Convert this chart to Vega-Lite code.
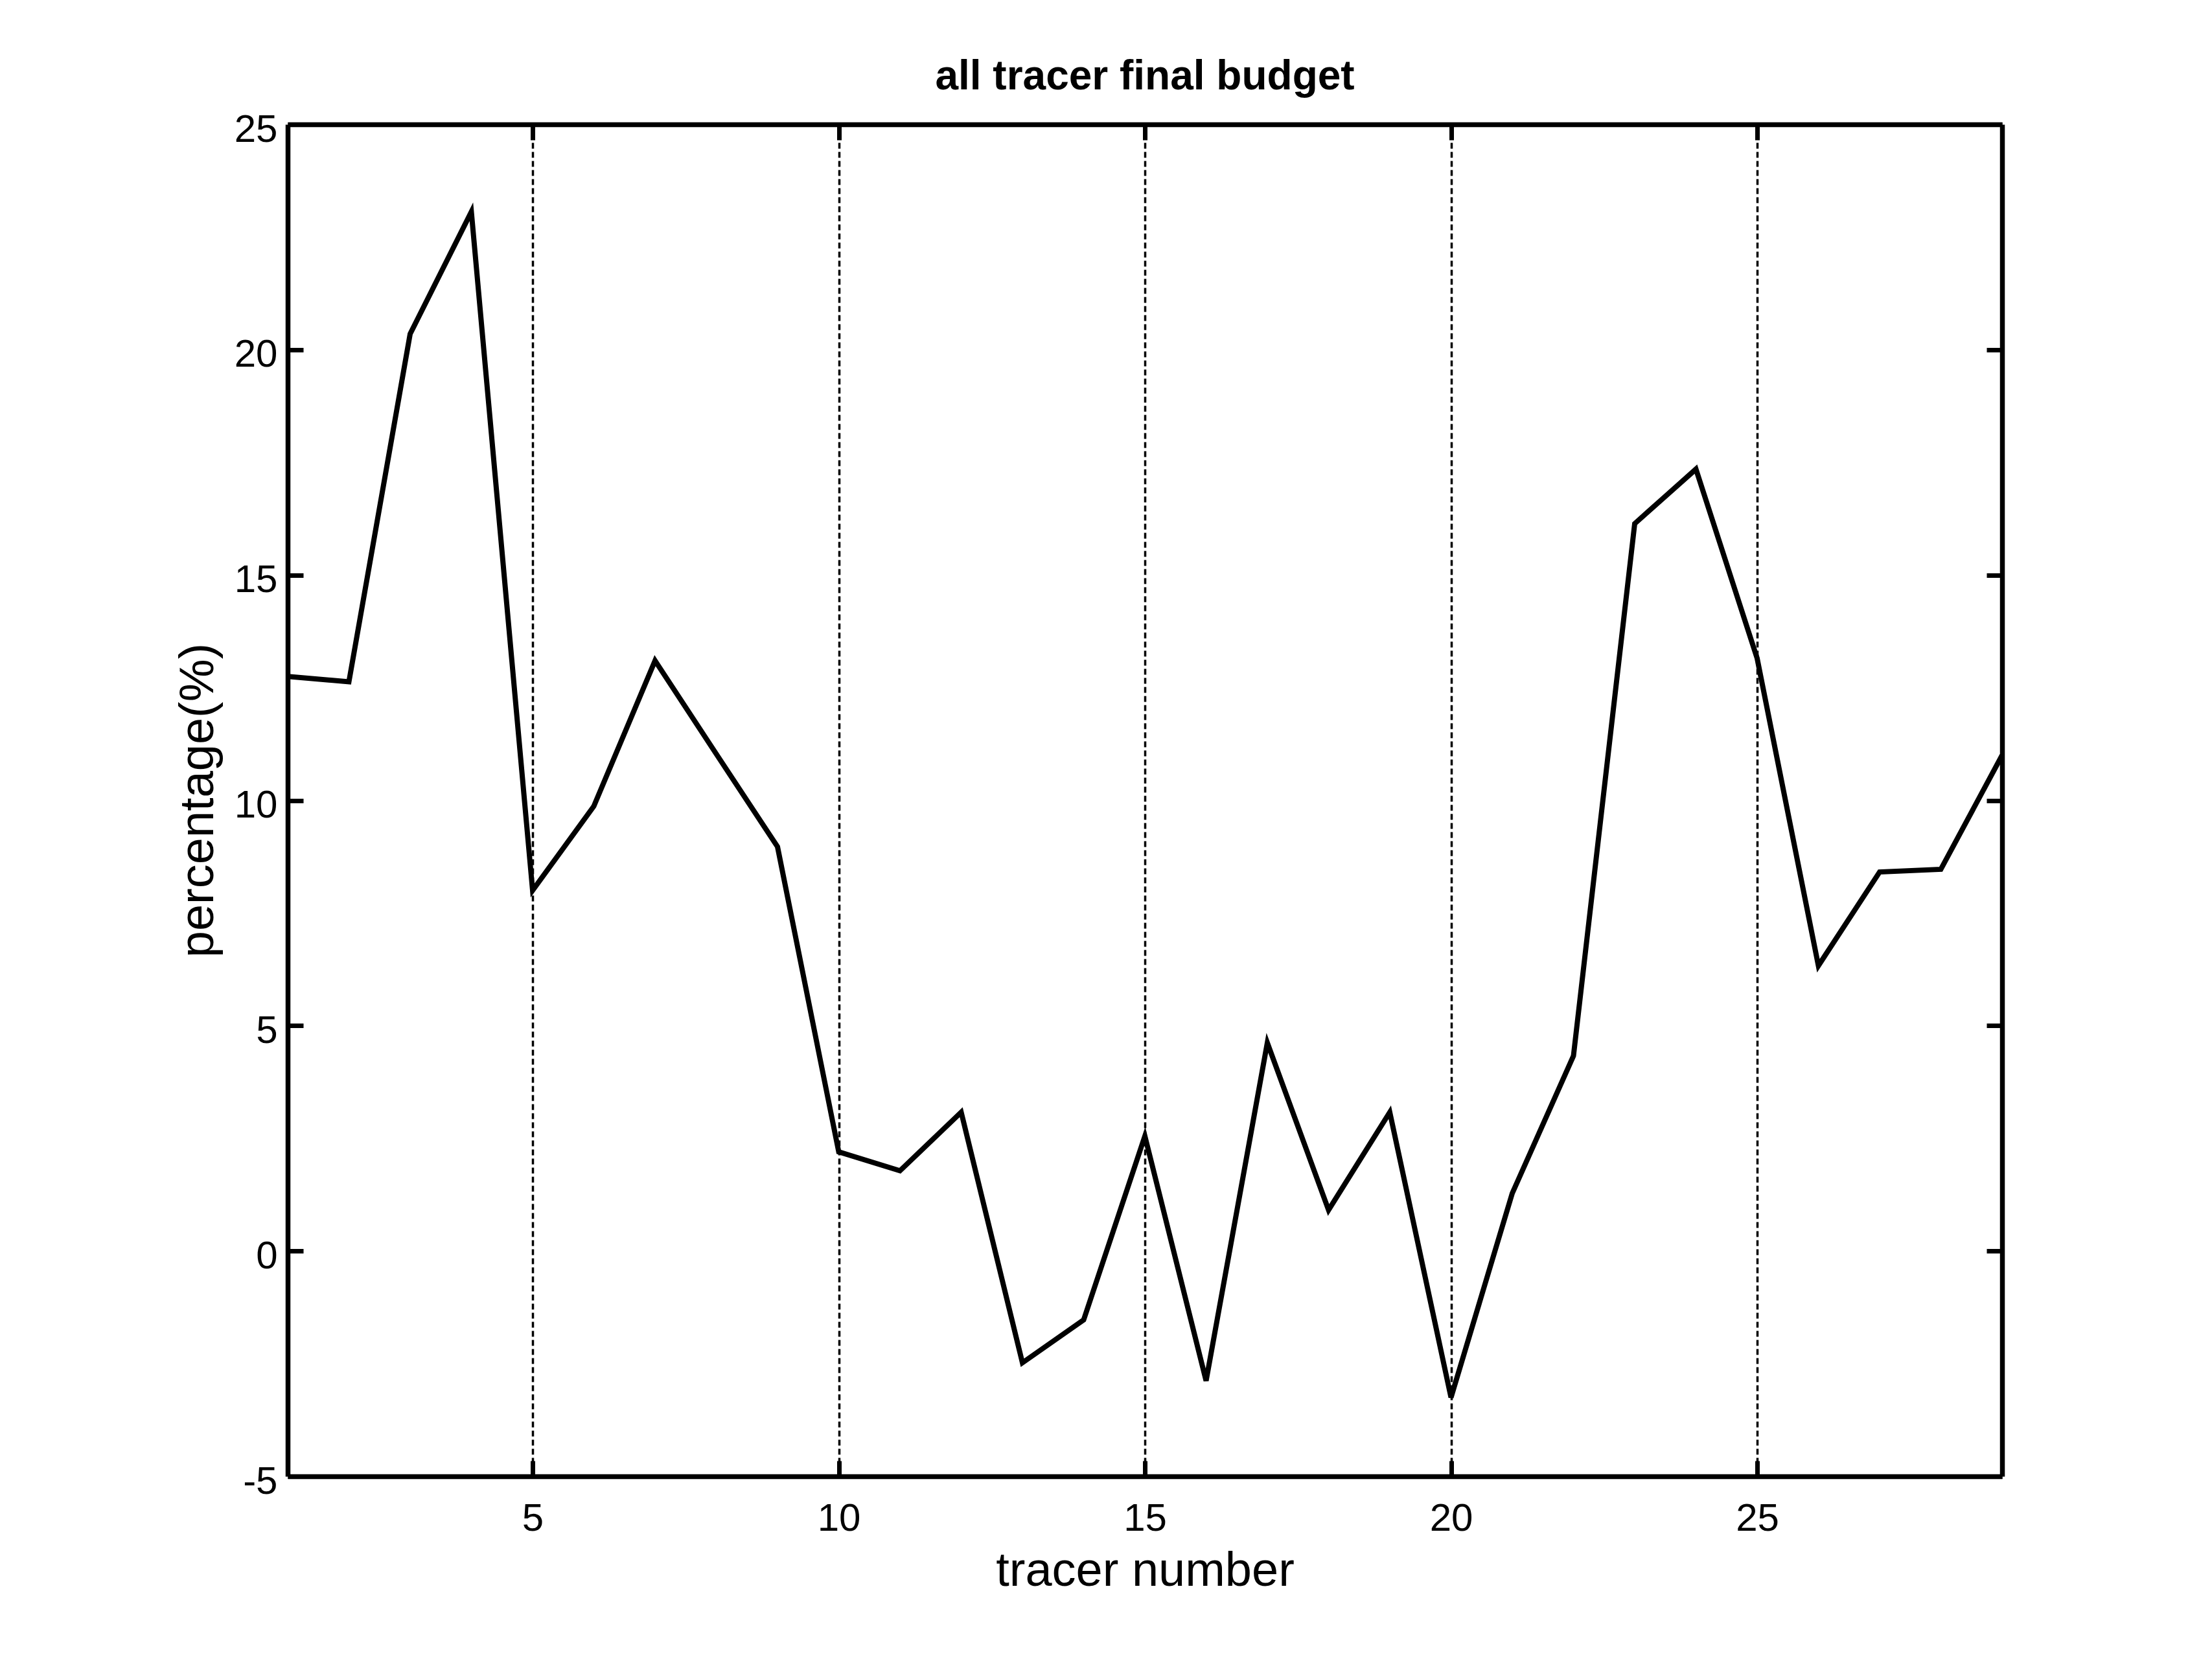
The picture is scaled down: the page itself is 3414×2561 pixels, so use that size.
{
  "$schema": "https://vega.github.io/schema/vega-lite/v6.json",
  "width": 2646,
  "height": 2087,
  "autosize": {"type": "none"},
  "padding": {"left": 444, "top": 192, "right": 324, "bottom": 282},
  "background": "white",
  "title": {
    "text": "all tracer final budget",
    "font": "Liberation Sans",
    "fontSize": 64,
    "fontWeight": "bold",
    "color": "black",
    "anchor": "middle",
    "baseline": "alphabetic",
    "offset": 38,
    "dy": 70
  },
  "config": {
    "view": {"stroke": null},
    "axis": {
      "domainColor": "black",
      "domainWidth": 7.5,
      "tickColor": "black",
      "tickWidth": 7,
      "tickSize": -24,
      "labelFont": "Liberation Sans",
      "labelFontSize": 60,
      "labelColor": "black",
      "labelFlush": false,
      "labelOverlap": false,
      "labelBound": false,
      "labelExpr": "'' + datum.value",
      "titleFont": "Liberation Sans",
      "titleFontSize": 74,
      "titleFontWeight": "normal",
      "titleColor": "black"
    }
  },
  "data": {
    "values": [
      {"tracer": 1, "pct": 12.75},
      {"tracer": 2, "pct": 12.63},
      {"tracer": 3, "pct": 20.35},
      {"tracer": 4, "pct": 23.06},
      {"tracer": 5, "pct": 8.0},
      {"tracer": 6, "pct": 9.87},
      {"tracer": 7, "pct": 13.1},
      {"tracer": 8, "pct": 11.03},
      {"tracer": 9, "pct": 8.97},
      {"tracer": 10, "pct": 2.2},
      {"tracer": 11, "pct": 1.78},
      {"tracer": 12, "pct": 3.08},
      {"tracer": 13, "pct": -2.48},
      {"tracer": 14, "pct": -1.53},
      {"tracer": 15, "pct": 2.55},
      {"tracer": 16, "pct": -2.88},
      {"tracer": 17, "pct": 4.62},
      {"tracer": 18, "pct": 0.91},
      {"tracer": 19, "pct": 3.08},
      {"tracer": 20, "pct": -3.25},
      {"tracer": 21, "pct": 1.28},
      {"tracer": 22, "pct": 4.33},
      {"tracer": 23, "pct": 16.14},
      {"tracer": 24, "pct": 17.35},
      {"tracer": 25, "pct": 13.15},
      {"tracer": 26, "pct": 6.33},
      {"tracer": 27, "pct": 8.41},
      {"tracer": 28, "pct": 8.47},
      {"tracer": 29, "pct": 11.0}
    ]
  },
  "layer": [
    {
      "mark": {"type": "line", "color": "black", "strokeWidth": 8, "strokeJoin": "miter", "clip": true},
      "encoding": {
        "x": {
          "field": "tracer",
          "type": "quantitative",
          "scale": {"domain": [1, 29], "nice": false, "zero": false},
          "axis": {
            "orient": "bottom",
            "values": [5, 10, 15, 20, 25],
            "title": "tracer number",
            "labelPadding": 60,
            "grid": true,
            "gridColor": "black",
            "gridWidth": 3.5,
            "gridDash": [9, 5],
            "gridOpacity": 1,
            "titleBaseline": "alphabetic",
            "titleX": 1323,
            "titleY": 168,
            "titleAnchor": "middle",
            "titleAlign": "center"
          }
        },
        "y": {
          "field": "pct",
          "type": "quantitative",
          "scale": {"domain": [-5, 25], "nice": false, "zero": false},
          "axis": {
            "orient": "left",
            "values": [-5, 0, 5, 10, 15, 20, 25],
            "title": "percentage(%)",
            "labelPadding": 40,
            "labelBaseline": "middle",
            "labelOffset": 8,
            "grid": false,
            "titleBaseline": "alphabetic",
            "titleAngle": -90,
            "titleX": -116,
            "titleY": 1043,
            "titleAlign": "center"
          }
        }
      }
    },
    {
      "mark": {"type": "line", "opacity": 0},
      "encoding": {
        "x": {
          "field": "tracer",
          "type": "quantitative",
          "axis": {
            "orient": "top",
            "values": [5, 10, 15, 20, 25],
            "labels": false,
            "title": null,
            "grid": false
          }
        },
        "y": {
          "field": "pct",
          "type": "quantitative",
          "axis": {
            "orient": "right",
            "values": [-5, 0, 5, 10, 15, 20, 25],
            "labels": false,
            "title": null,
            "grid": false
          }
        }
      }
    }
  ],
  "resolve": {"axis": {"x": "independent", "y": "independent"}}
}
